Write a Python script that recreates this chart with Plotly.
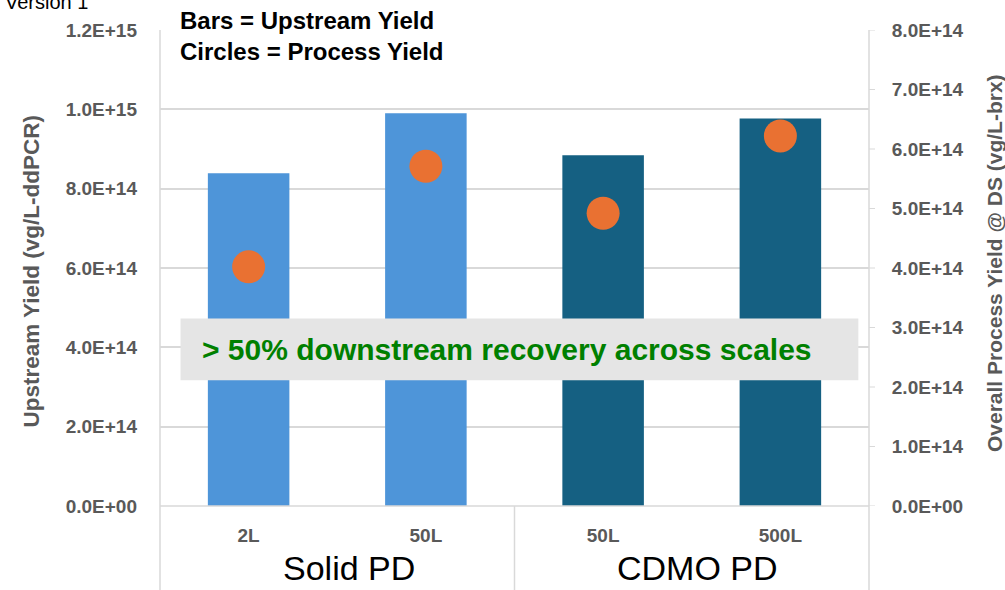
import plotly.graph_objects as go

# ---- data ----
categories = ["2L", "50L", "50L", "500L"]
groups = ["Solid PD", "CDMO PD"]
upstream_yield = [8.39e14, 9.90e14, 8.84e14, 9.77e14]
process_yield = [4.02e14, 5.71e14, 4.92e14, 6.22e14]
bar_colors = ["#4E95D9", "#4E95D9", "#156082", "#156082"]
left_tickvals = [0, 2e14, 4e14, 6e14, 8e14, 1.0e15, 1.2e15]
left_ticktext = ["0.0E+00", "2.0E+14", "4.0E+14", "6.0E+14", "8.0E+14", "1.0E+15", "1.2E+15"]
right_tickvals = [0, 1e14, 2e14, 3e14, 4e14, 5e14, 6e14, 7e14, 8e14]
right_ticktext = ["0.0E+00", "1.0E+14", "2.0E+14", "3.0E+14", "4.0E+14",
                  "5.0E+14", "6.0E+14", "7.0E+14", "8.0E+14"]

xpos = list(range(len(categories)))
GRAY = "#595959"
LINE = "#D9D9D9"
FAM = "Liberation Sans, Arial"
TICKFONT = dict(family=FAM, size=19, color=GRAY, weight="bold")

fig = go.Figure()
fig.add_trace(go.Bar(x=xpos, y=upstream_yield, marker=dict(color=bar_colors, line=dict(width=0)),
                     width=0.46, yaxis="y", showlegend=False))
fig.add_trace(go.Scatter(x=xpos, y=process_yield, mode="markers", yaxis="y2",
                         marker=dict(size=33, color="#E97132"), showlegend=False))

fig.update_layout(
    width=1005, height=590,
    margin=dict(l=160, r=136, t=30, b=84),
    paper_bgcolor="white", plot_bgcolor="white",
    xaxis=dict(range=[-0.5, 3.5], tickvals=xpos, ticktext=categories, showgrid=False,
               zeroline=False, showline=False, ticks="", tickfont=TICKFONT,
               ticklabelstandoff=16, automargin=False),
    yaxis=dict(range=[0, 1.2e15], tickvals=left_tickvals, ticktext=left_ticktext,
               showgrid=True, gridcolor=LINE, gridwidth=1.5, zeroline=False, showline=False,
               ticks="", tickfont=TICKFONT, ticklabelstandoff=22, automargin=False),
    yaxis2=dict(range=[0, 8e14], tickvals=right_tickvals, ticktext=right_ticktext,
                overlaying="y", side="right", showgrid=False, zeroline=False, showline=False,
                ticks="outside", ticklen=18, tickcolor="rgba(0,0,0,0)",
                tickfont=TICKFONT, automargin=False),
)

shapes = [
    dict(type="line", xref="paper", yref="paper", x0=0, x1=0, y0=1, y1=-0.2,
         line=dict(color=LINE, width=1.5)),
    dict(type="line", xref="paper", yref="paper", x0=1, x1=1, y0=1, y1=-0.2,
         line=dict(color=LINE, width=1.5)),
    dict(type="line", xref="x", yref="paper", x0=1.5, x1=1.5, y0=0, y1=-0.2,
         line=dict(color=LINE, width=1.5)),
    dict(type="line", xref="paper", yref="paper", x0=0, x1=1, y0=0, y1=0,
         line=dict(color=LINE, width=1.5)),
]
# short outside tick marks on the right axis
for tv in right_tickvals:
    shapes.append(dict(type="line", xref="paper", yref="y2", x0=1, x1=1 + 6 / 709,
                       y0=tv, y1=tv, line=dict(color=LINE, width=1)))
shapes.append(dict(type="rect", xref="paper", yref="paper", x0=0.029, x1=0.985, y0=0.264,
                   y1=0.394, fillcolor="#E5E5E5", line=dict(width=0), layer="above"))
fig.update_layout(shapes=shapes)

ann = []
ann.append(dict(text="> 50% downstream recovery across scales", xref="paper", yref="paper",
                x=0.056, y=0.329, xanchor="left", yanchor="middle", showarrow=False,
                font=dict(family=FAM, size=30, color="#008000", weight="bold")))
ann.append(dict(text="Bars = Upstream Yield<br>Circles = Process Yield", xref="paper", yref="paper",
                x=0.026, y=1.053, xanchor="left", yanchor="top", align="left", showarrow=False,
                font=dict(family=FAM, size=24, color="black", weight="bold")))
ann.append(dict(text="Upstream Yield (vg/L-ddPCR)", xref="paper", yref="paper",
                x=-0.181, y=0.494, xanchor="center", yanchor="middle", textangle=-90,
                showarrow=False, font=dict(family=FAM, size=22.5, color=GRAY, weight="bold")))
ann.append(dict(text="Overall Process Yield @ DS (vg/L-brx)", xref="paper", yref="paper",
                x=1.176, y=0.51, xanchor="center", yanchor="middle", textangle=-90,
                showarrow=False, font=dict(family=FAM, size=21, color=GRAY, weight="bold")))
group_shift = [12, 6]
for gi, g in enumerate(groups):
    ann.append(dict(text=g, xref="x", yref="paper", x=0.5 + 2 * gi, y=-0.13, yanchor="middle",
                    xshift=group_shift[gi], showarrow=False,
                    font=dict(family=FAM, size=34, color="black")))
ann.append(dict(text="Version 1", xref="paper", yref="paper", x=-0.222, y=1.058,
                xanchor="left", yanchor="middle", showarrow=False,
                font=dict(family=FAM, size=20, color="black")))
fig.update_layout(annotations=ann)

fig.write_html("out.html", config={"displayModeBar": False},
               post_script="document.body.style.margin='0';")
